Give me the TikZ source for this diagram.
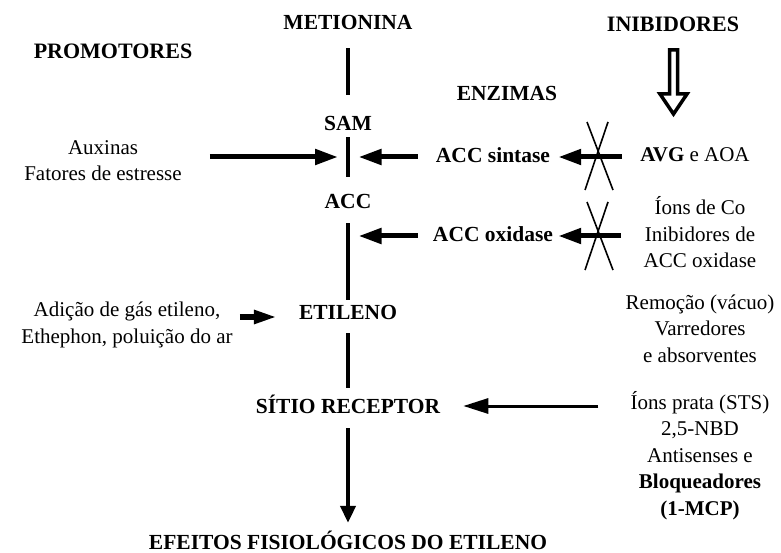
\documentclass[tikz,border=0pt]{standalone}
\usepackage{fontspec}
\setmainfont{Liberation Serif}
\usetikzlibrary{arrows.meta}

\tikzset{
  header/.style={font=\fontsize{22}{26}\selectfont\bfseries, inner sep=0pt, anchor=base},
  stage/.style={font=\fontsize{21.5}{26}\selectfont\bfseries, inner sep=0pt,
    text height=14pt, text depth=0pt, anchor=base},
  note/.style={font=\fontsize{21}{26.5}\selectfont, inner sep=0pt, align=center, anchor=base},
  trunk/.style={line width=4.5pt},
  fat/.style={line width=5pt, -{Triangle[length=23pt,width=15pt]}},
  slim/.style={line width=3pt, -{Triangle[length=25pt,width=15pt]}},
  xmark/.style={line width=1.6pt},
}

\begin{document}
\begin{tikzpicture}[x=1pt,y=-1pt]
  \useasboundingbox (0,0) rectangle (781,553);

  \node[header] (promo) at (113,59) {PROMOTORES};
  \node[header] (inib) at (673,32) {INIBIDORES};
  \node[stage] (enz) at (507,101) {ENZIMAS};

  \node[stage] (met) at (348,30) {METIONINA};
  \node[stage] (sam) at (348,131) {SAM};
  \node[stage] (acc) at (348,209) {ACC};
  \node[stage] (etil) at (348,319) {ETILENO};
  \node[stage] (sitio) at (348,413) {SÍTIO RECEPTOR};
  \node[stage] (efe) at (348,549) {EFEITOS FISIOLÓGICOS DO ETILENO};

  \node[stage] (accs) at (493,163) {ACC sintase};
  \node[stage] (acco) at (493,242) {ACC oxidase};

  \node[note] (aux) at (103,181) {Auxinas\\Fatores de estresse};
  \node[note] (adic) at (127,343) {Adição de gás etileno,\\Ethephon, poluição do ar};
  \node[note] (avg) at (695,162) {\textbf{AVG} e AOA};
  \node[note] (ions) at (700,268) {Íons de Co\\Inibidores de\\ACC oxidase};
  \node[note] (remo) at (700,362) {Remoção (vácuo)\\Varredores\\e absorventes};
  \node[note] (prata) at (700,515) {Íons prata (STS)\\2,5-NBD\\Antisenses e\\\textbf{Bloqueadores}\\\textbf{(1-MCP)}};

  \coordinate (t1) at (348,157);
  \coordinate (t2) at (348,236);
  \coordinate (x1) at (598,156);
  \coordinate (x2) at (598,236);

  \draw[trunk, shorten <=18pt, shorten >=22pt] (met) -- (sam);
  \draw[trunk, shorten <=6pt, shorten >=18pt] (sam) -- (acc);
  \draw[trunk, shorten <=14pt, shorten >=5pt] (acc) -- (etil);
  \draw[trunk, shorten <=14pt, shorten >=11pt] (etil) -- (sitio);
  \draw[trunk, shorten <=15pt, shorten >=12pt, -{Triangle[length=17pt,width=15pt]}] (sitio) -- (efe);

  \draw[fat, shorten <=28pt, shorten >=10pt] (aux.east |- t1) -- (t1);
  \draw[fat, shorten <=18pt, shorten >=10.5pt] (accs.west |- t1) -- (t1);
  \draw[fat, shorten <=18pt, shorten >=8pt] (avg.west |- t1) -- (accs.east |- t1);
  \draw[fat, shorten <=15pt, shorten >=10.5pt] (acco.west |- t2) -- (t2);
  \draw[fat, shorten <=23pt, shorten >=5pt] (ions.west |- t2) -- (acco.east |- t2);
  \draw[line width=5.5pt, -{Triangle[length=23pt,width=13pt]}, shorten <=7pt, shorten >=22pt]
    ([yshift=-5pt]adic.east |- etil.west) -- ([yshift=-5pt]etil.west);
  \draw[slim, shorten <=32pt, shorten >=23pt] (prata.west |- sitio.east) -- (sitio.east);

  \foreach \c in {x1, x2} {
    \draw[xmark] (\c) ++(-11,-34) -- ++(26,68);
    \draw[xmark] (\c) ++(10,-34) -- ++(-23,68);
  }

  \draw[line width=3.5pt, fill=white, line join=miter]
    (669.5,50) -- (669.5,94) -- (660,94) -- (673.5,114) -- (687,94) -- (677.5,94) -- (677.5,50) -- cycle;
\end{tikzpicture}
\end{document}
